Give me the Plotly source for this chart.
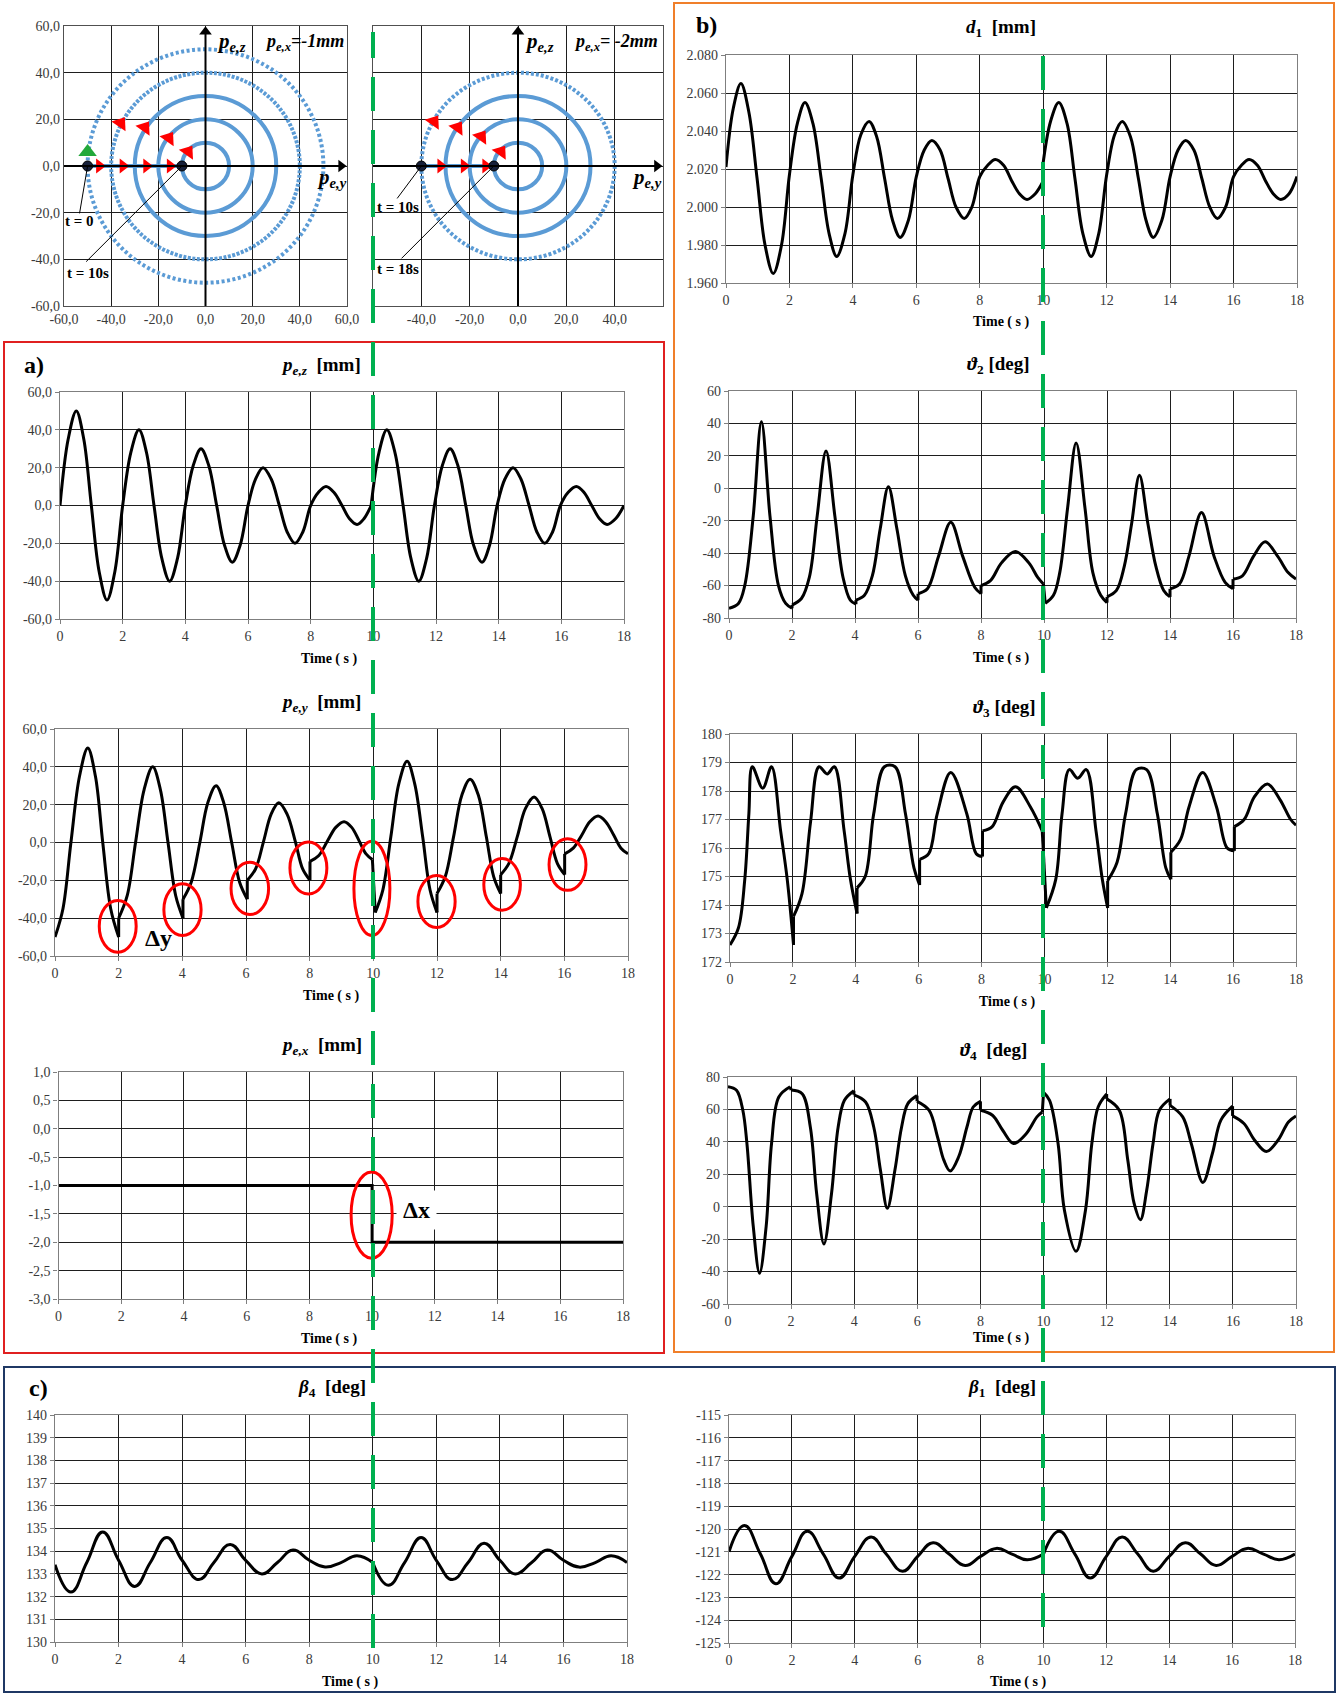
import plotly.graph_objects as go

W, H = 1338, 1694

# ---------------- DATA ----------------
# spiral trajectories (pe,y / pe,z plane)
SPIRAL_L_RADII = [10, 20, 30, 40, 50]
SPIRAL_R_RADII = [10, 20, 30, 40]
SPIRAL_L_DASH = ["solid", "solid", "solid", "3px,1.5px", "3px,2.5px"]
SPIRAL_R_DASH = ["solid", "solid", "solid", "3px,2px"]
L_RADIAL_Y = [-45, -35, -25, -15]
L_ARC_Y = [-36, -25.8, -15.6, -7.4]
L_ARC_Z = [18.3, 16.4, 11.9, 6.1]
L_DOTS_Y = [-50, -10]
R_RADIAL_Y = [-32, -22.3, -13.4]
R_ARC_Y = [-34.8, -25, -15.2, -7.1]
R_ARC_Z = [19, 16.4, 12.6, 6.1]
R_DOTS_Y = [-40, -10]

# time series (None separates pieces at jumps)
PEZ_T = [0, 0.26, 0.52, 0.76, 1.0, 1.25, 1.5, 1.75, 2.0, 2.26, 2.52, 2.76, 3.0, 3.25, 3.5, 3.75, 4.0, 4.25, 4.5, 4.75,
         5.0, 5.25, 5.5, 5.75, 6.0, 6.24, 6.48, 6.74, 7.0, 7.25, 7.5, 7.75, 8.0, 8.25, 8.49, 8.74, 9.0, 9.24, 9.48, 9.7,
         9.93, None,
         9.93, 10.18, 10.43, 10.69, 10.95, 11.2, 11.45, 11.7, 11.95, 12.2, 12.45, 12.7, 12.95, 13.2, 13.47, 13.71, 13.95,
         14.2, 14.46, 14.71, 14.97, 15.22, 15.47, 15.72, 15.97, 16.22, 16.48, 16.72, 16.97, 17.22, 17.46, 17.73, 18.0]
PEZ_V = [0, 35, 50, 35, 0, -35, -50, -35, 0, 28, 40, 28, 0, -28, -40, -28, 0, 21, 30, 21,
         0, -21, -30, -21, 0, 14, 20, 14, 0, -14, -20, -14, 0, 7, 10, 7, 0, -7, -10, -7,
         0, None,
         0, 28, 40, 28, 0, -28, -40, -28, 0, 21, 30, 21, 0, -21, -30, -21, 0,
         14, 20, 14, 0, -14, -20, -14, 0, 7, 10, 7, 0, -7, -10, -7, 0]

PEY_T = [0, 0.25, 0.5, 0.77, 1.03, 1.27, 1.5, 1.75, 2.0, None,
         2.0, 2.27, 2.53, 2.8, 3.07, 3.31, 3.55, 3.79, 4.02, None,
         4.02, 4.28, 4.55, 4.8, 5.06, 5.3, 5.55, 5.8, 6.04, None,
         6.04, 6.3, 6.55, 6.79, 7.03, 7.29, 7.55, 7.78, 8.01, None,
         8.01, 8.28, 8.55, 8.82, 9.08, 9.32, 9.55, 9.77, 9.97, None,
         10.06, 10.3, 10.55, 10.8, 11.06, 11.3, 11.55, 11.78, 12.0, None,
         12.0, 12.26, 12.52, 12.78, 13.04, 13.3, 13.55, 13.78, 14.0, None,
         14.0, 14.26, 14.52, 14.78, 15.05, 15.3, 15.55, 15.78, 16.01, None,
         16.01, 16.28, 16.55, 16.8, 17.06, 17.3, 17.55, 17.78, 18.0]
PEY_V = [-50, -35, 0, 35, 50, 35, 0, -35, -50, None,
         -40, -28, 0, 28, 40, 28, 0, -28, -40, None,
         -30, -21, 0, 21, 30, 21, 0, -21, -30, None,
         -20, -14, 0.5, 15, 21, 15, 0.5, -14, -20, None,
         -10, -7, 0.5, 8, 11, 8, 1, -6, -9, None,
         -37, -25, 3, 31, 43, 31, 3, -25, -37, None,
         -27, -18, 3, 25, 33.5, 25, 3, -18, -27, None,
         -17, -11, 3, 18, 24, 18, 3, -11, -17, None,
         -6, -3, 4, 11, 14, 11, 4, -3, -6]

PEX_T = [0, 10, 10, 18]
PEX_V = [-1, -1, -2, -2]

D1_T = [0, 0.23, 0.47, 0.72, 0.98, 1.23, 1.49, 1.75, 2.0, 2.25, 2.49, 2.74, 3.0, 3.25, 3.49, 3.75, 4.0, 4.25, 4.51,
        4.75, 5.0, 5.25, 5.49, 5.75, 6.0, 6.25, 6.49, 6.75, 7.0, 7.25, 7.51, 7.75, 8.0, 8.25, 8.49, 8.75, 9.0, 9.25,
        9.49, 9.75, 9.98, None,
        9.98, 10.23, 10.49, 10.75, 11.0, 11.25, 11.51, 11.75, 12.0, 12.25, 12.49, 12.75, 13.0, 13.24, 13.47, 13.74,
        14.0, 14.25, 14.49, 14.75, 15.0, 15.25, 15.49, 15.75, 16.0, 16.25, 16.49, 16.75, 17.0, 17.25, 17.49, 17.75, 18.0]
D1_V = [2.021, 2.052, 2.065, 2.050, 2.015, 1.980, 1.965, 1.980, 2.017, 2.044, 2.055, 2.044, 2.015, 1.986, 1.974, 1.986,
        2.017, 2.038, 2.045, 2.037, 2.015, 1.993, 1.984, 1.993, 2.016, 2.030, 2.035, 2.030, 2.015, 2.000, 1.994, 2.000,
        2.016, 2.022, 2.025, 2.022, 2.014, 2.007, 2.004, 2.007, 2.013, None,
        2.021, 2.045, 2.055, 2.044, 2.015, 1.986, 1.974, 1.986, 2.017, 2.038, 2.045, 2.037, 2.015, 1.993, 1.984, 1.993,
        2.016, 2.030, 2.035, 2.030, 2.015, 2.000, 1.994, 2.000, 2.016, 2.022, 2.025, 2.022, 2.014, 2.007, 2.004, 2.007,
        2.016]

TH2_T = [0, 0.3, 0.5, 0.77, 1.03, 1.3, 1.57, 1.8, 2.0, None,
         2.0, 2.3, 2.55, 2.8, 3.08, 3.36, 3.62, 3.85, 4.03, None,
         4.03, 4.3, 4.55, 4.8, 5.06, 5.33, 5.6, 5.85, 6.0, None,
         6.0, 6.3, 6.65, 7.04, 7.42, 7.8, 8.0, None,
         8.0, 8.3, 8.65, 9.09, 9.52, 9.8, 9.98, None,
         10.04, 10.3, 10.5, 10.75, 11.02, 11.3, 11.55, 11.8, 12.0, None,
         12.0, 12.3, 12.55, 12.78, 13.03, 13.3, 13.55, 13.8, 14.0, None,
         14.0, 14.3, 14.6, 15.0, 15.4, 15.75, 16.0, None,
         16.0, 16.3, 16.65, 17.02, 17.42, 17.75, 18.0]
TH2_V = [-74, -71, -60, -17, 41, -17, -60, -71, -74, None,
         -72, -68, -55, -17, 23, -17, -55, -69, -71.5, None,
         -69, -66, -54, -25, 1, -25, -54, -66, -69, None,
         -65, -62, -42, -21, -42, -61, -65, None,
         -60, -57, -46, -39, -46, -55, -59, None,
         -71, -66, -52, -12, 28, -12, -52, -66, -70.5, None,
         -67, -63, -48, -22, 8, -22, -48, -63, -67, None,
         -62, -59, -42, -15, -42, -58, -62, None,
         -56, -54, -42, -33, -42, -52, -56]

TH3_T = [0, 0.27, 0.47, 0.6, 0.71, 1.04, 1.32, 1.61, 1.82, 2.02, None,
         2.02, 2.29, 2.56, 2.83, 3.09, 3.32, 3.63, 3.83, 4.04, None,
         4.04, 4.3, 4.57, 4.91, 5.25, 5.58, 5.85, 6.03, None,
         6.03, 6.32, 6.59, 7.02, 7.53, 7.83, 8.03, None,
         8.03, 8.34, 8.68, 9.08, 9.55, 9.93, None,
         10.06, 10.36, 10.56, 10.79, 11.06, 11.33, 11.64, 11.84, 12.01, None,
         12.01, 12.31, 12.58, 12.92, 13.25, 13.59, 13.86, 14.02, None,
         14.02, 14.33, 14.6, 15.03, 15.47, 15.81, 16.04, None,
         16.04, 16.35, 16.68, 17.09, 17.49, 17.83, 18.0]
TH3_V = [172.6, 173.2, 174.9, 177.2, 178.85, 178.1, 178.85, 176.6, 174.9, 172.6, None,
         173.6, 174.4, 176.9, 178.85, 178.6, 178.85, 176.6, 174.9, 173.7, None,
         174.6, 175.0, 177.2, 178.85, 178.85, 177.2, 175.3, 174.7, None,
         175.6, 175.8, 177.2, 178.65, 177.2, 175.8, 175.7, None,
         176.6, 176.75, 177.6, 178.15, 177.45, 176.6, None,
         173.9, 174.9, 177.2, 178.75, 178.45, 178.75, 176.6, 174.9, 173.9, None,
         174.85, 175.5, 177.2, 178.75, 178.75, 177.2, 175.3, 174.9, None,
         175.85, 176.3, 177.45, 178.65, 177.45, 176.0, 175.9, None,
         176.75, 177.0, 177.8, 178.25, 177.7, 177.0, 176.8]

TH4_T = [0, 0.27, 0.47, 0.6, 0.8, 1.0, 1.21, 1.38, 1.61, 1.97, None,
         2.0, 2.35, 2.61, 2.81, 3.04, 3.28, 3.49, 3.69, 3.99, None,
         3.99, 4.36, 4.62, 4.83, 5.05, 5.29, 5.5, 5.7, 5.99, None,
         5.99, 6.37, 6.64, 6.84, 7.04, 7.31, 7.57, 7.77, 8.0, None,
         8.0, 8.38, 8.71, 9.05, 9.45, 9.79, 9.96, None,
         10.0, 10.19, 10.46, 10.66, 11.03, 11.33, 11.53, 11.73, 12.0, None,
         12.0, 12.4, 12.67, 12.87, 13.07, 13.27, 13.47, 13.67, 14.01, None,
         14.01, 14.41, 14.68, 15.05, 15.35, 15.62, 15.99, None,
         15.99, 16.35, 16.69, 17.06, 17.43, 17.76, 18.0]
TH4_V = [74, 71.8, 59.5, 39, -12, -41, -12, 39, 67.7, 74, None,
         72, 69.7, 49, 8, -23, 8, 49, 65.6, 71.5, None,
         69, 64.6, 49, 22.6, -1, 22.6, 49, 63.6, 68.5, None,
         65, 59.5, 43, 28.7, 22, 30.8, 49, 61.5, 65, None,
         59.5, 56.4, 47, 39, 45, 55.4, 58.4, None,
         70.5, 65.6, 39, -2, -27.5, -2, 39, 61.5, 69.5, None,
         66.5, 59.5, 28.7, 2, -8, 10.3, 39, 59.5, 66.5, None,
         62.5, 55.4, 39, 15, 32.8, 53.4, 62, None,
         56, 51.3, 41, 34, 41, 52.3, 56]

B4_T = [0, 0.5, 1.0, 1.5, 2.0, 2.51, 3.0, 3.52, 4.0, 4.53, 5.0, 5.51, 6.0, 6.51, 7.0, 7.49, 8.0, 8.5, 9.0, 9.5, 10.0, None,
        10.0, 10.49, 11.0, 11.52, 12.0, 12.5, 13.0, 13.5, 14.0, 14.48, 15.0, 15.49, 16.0, 16.49, 17.0, 17.5, 18.0]
B4_V = [133.4, 132.2, 133.5, 134.85, 133.6, 132.45, 133.5, 134.6, 133.6, 132.75, 133.5, 134.3, 133.6, 133.0, 133.5,
        134.05, 133.6, 133.3, 133.5, 133.8, 133.5, None,
        133.5, 132.5, 133.5, 134.6, 133.6, 132.75, 133.5, 134.35, 133.6, 133.0, 133.5, 134.05, 133.6, 133.3, 133.5, 133.8, 133.5]

B1_T = [0, 0.49, 1.0, 1.49, 2.0, 2.49, 3.0, 3.5, 4.0, 4.52, 5.0, 5.52, 6.0, 6.49, 7.0, 7.51, 8.0, 8.5, 9.0, 9.48, 10.0, None,
        10.0, 10.5, 11.0, 11.49, 12.0, 12.5, 13.0, 13.49, 14.0, 14.51, 15.0, 15.49, 16.0, 16.48, 17.0, 17.49, 18.0]
B1_V = [-121.0, -119.85, -121.1, -122.4, -121.2, -120.1, -121.1, -122.15, -121.2, -120.35, -121.1, -121.85, -121.2,
        -120.6, -121.1, -121.6, -121.2, -120.85, -121.1, -121.35, -121.1, None,
        -121.1, -120.1, -121.1, -122.15, -121.2, -120.35, -121.1, -121.85, -121.2, -120.6, -121.1, -121.6, -121.2,
        -120.85, -121.1, -121.35, -121.1]

# highlight ellipses on pe,y
ELL_T0 = [1.39, 3.42, 5.53, 7.38, 9.39, 11.4, 13.47, 15.52]
ELL_T1 = [2.55, 4.59, 6.71, 8.54, 10.52, 12.57, 14.62, 16.68]
ELL_V0 = [-58, -49.2, -38.1, -27.2, -49.2, -44.9, -35.8, -25.3]
ELL_V1 = [-30.6, -21.8, -10.5, 0.3, 0.6, -17.4, -8.5, 2]

TIME_TICKS = list(range(0, 19, 2))

# ---------------- FIGURE ----------------
FONT = "Liberation Serif, DejaVu Serif, serif"
TICKFONT = dict(family=FONT, size=14, color="#3a3a3a")
BLUE = "#5B9BD5"

fig = go.Figure()
layout = dict(width=W, height=H, margin=dict(l=0, r=0, t=0, b=0, autoexpand=False),
              paper_bgcolor="white", plot_bgcolor="white", showlegend=False)
shapes, annots = [], []


def dom(x0, x1, y0, y1):
    return [x0 / W, x1 / W], [1 - y1 / H, 1 - y0 / H]


def add_axes(i, box, xr, yr, xtv, xtt, ytv, ytt, show_x=True, show_y=True):
    xd, yd = dom(*box)
    sfx = "" if i == 1 else str(i)
    common = dict(showline=True, mirror=True, linecolor="#7f7f7f", linewidth=1.2, automargin=False,
                  showgrid=True, gridcolor="#1e1e1e", gridwidth=1, zeroline=False,
                  ticks="outside", ticklen=4, tickcolor="#7f7f7f", tickfont=TICKFONT, fixedrange=True)
    layout["xaxis" + sfx] = dict(common, domain=xd, range=xr, anchor="y" + sfx,
                                 tickmode="array", tickvals=xtv, ticktext=xtt, showticklabels=show_x)
    layout["yaxis" + sfx] = dict(common, domain=yd, range=yr, anchor="x" + sfx,
                                 tickmode="array", tickvals=ytv, ticktext=ytt, showticklabels=show_y)


def jumps(t, v):
    xs, ys = [], []
    for k, val in enumerate(t):
        if val is None:
            xs += [t[k - 1], t[k + 1], None]
            ys += [v[k - 1], v[k + 1], None]
    return xs, ys


def add_series(i, t, v, smooth=1.0, shape="spline"):
    sfx = "" if i == 1 else str(i)
    fig.add_trace(go.Scatter(x=t, y=v, mode="lines", xaxis="x" + sfx, yaxis="y" + sfx,
                             line=dict(color="black", width=3, shape=shape, smoothing=smooth),
                             connectgaps=False, hoverinfo="skip"))
    jx, jy = jumps(t, v)
    if jx:
        fig.add_trace(go.Scatter(x=jx, y=jy, mode="lines", xaxis="x" + sfx, yaxis="y" + sfx,
                                 line=dict(color="black", width=3), hoverinfo="skip"))


def comma(vals, fmt="{:.1f}"):
    return [fmt.format(v).replace(".", ",") for v in vals]


def label(x, y, text, size=19, xanchor="center", color="black"):
    annots.append(dict(xref="paper", yref="paper", x=x / W, y=1 - y / H, text=text, showarrow=False,
                       font=dict(family=FONT, size=size, color=color), xanchor=xanchor, yanchor="middle"))


tt = [str(v) for v in TIME_TICKS]

# --- spiral panels ---
sp_ticks = list(range(-60, 61, 20))
add_axes(1, (64, 347, 26, 306), [-60, 60], [-60, 60], sp_ticks, comma(sp_ticks), sp_ticks, comma(sp_ticks))
add_axes(2, (373, 663, 26, 306), [-60, 60], [-60, 60], sp_ticks[1:-1], comma(sp_ticks[1:-1]),
         sp_ticks, comma(sp_ticks), show_y=False)
for ax in ("xaxis", "xaxis2", "yaxis", "yaxis2"):
    layout[ax]["ticks"] = ""
    layout[ax]["linecolor"] = "#505050"

for sfx, radii, dashes, y0 in (("", SPIRAL_L_RADII, SPIRAL_L_DASH, -50), ("2", SPIRAL_R_RADII, SPIRAL_R_DASH, -40)):
    for r, d in zip(radii, dashes):
        shapes.append(dict(type="circle", xref="x" + sfx, yref="y" + sfx, x0=-r, x1=r, y0=-r, y1=r,
                           line=dict(color=BLUE, width=4, dash=d), layer="between"))
    shapes.append(dict(type="line", xref="x" + sfx, yref="y" + sfx, x0=y0, x1=-10, y0=0, y1=0,
                       line=dict(color=BLUE, width=4), layer="between"))
    # coordinate axes with arrow heads
    shapes.append(dict(type="line", xref="x" + sfx, yref="y" + sfx, x0=-60, x1=57, y0=0, y1=0,
                       line=dict(color="black", width=2)))
    shapes.append(dict(type="line", xref="x" + sfx, yref="y" + sfx, x0=0, x1=0, y0=-60, y1=57,
                       line=dict(color="black", width=2)))
    fig.add_trace(go.Scatter(x=[57.5], y=[0], mode="markers", xaxis="x" + sfx, yaxis="y" + sfx, cliponaxis=False,
                             marker=dict(symbol="triangle-right", size=11, color="black"), hoverinfo="skip"))
    fig.add_trace(go.Scatter(x=[0], y=[57.5], mode="markers", xaxis="x" + sfx, yaxis="y" + sfx, cliponaxis=False,
                             marker=dict(symbol="triangle-up", size=11, color="black"), hoverinfo="skip"))

for sfx, rad, ay_, az_, dots in (("", L_RADIAL_Y, L_ARC_Y, L_ARC_Z, L_DOTS_Y), ("2", R_RADIAL_Y, R_ARC_Y, R_ARC_Z, R_DOTS_Y)):
    fig.add_trace(go.Scatter(x=rad, y=[0] * len(rad), mode="markers", xaxis="x" + sfx, yaxis="y" + sfx,
                             marker=dict(symbol="triangle-right", size=13, color="#FF0000"), hoverinfo="skip"))
    fig.add_trace(go.Scatter(x=ay_, y=az_, mode="markers", xaxis="x" + sfx, yaxis="y" + sfx,
                             marker=dict(symbol="triangle-up", size=15, color="#FF0000", angle=35), hoverinfo="skip"))
    fig.add_trace(go.Scatter(x=dots, y=[0] * len(dots), mode="markers", xaxis="x" + sfx, yaxis="y" + sfx,
                             marker=dict(symbol="circle", size=10, color="#17203a",
                                         line=dict(color="black", width=1)), hoverinfo="skip"))
fig.add_trace(go.Scatter(x=[-50], y=[6], mode="markers", xaxis="x", yaxis="y",
                         marker=dict(symbol="triangle-up", size=16, color="#22A83A"), hoverinfo="skip"))

# leader lines and labels in spiral panels
for sfx, x0, y0, x1, y1, tx, ty, txt in (
        ("", -50, 0, -53.4, -20.3, -53.5, -23.5, "t = 0"),
        ("", -10, 0, -50.6, -41, -50, -46, "t = 10s"),
        ("2", -40, 0, -50, -13.9, -49.5, -17.5, "t = 10s"),
        ("2", -10, 0, -48.2, -39.6, -49.5, -44, "t = 18s")):
    shapes.append(dict(type="line", xref="x" + sfx, yref="y" + sfx, x0=x0, y0=y0, x1=x1, y1=y1,
                       line=dict(color="black", width=1)))
    annots.append(dict(xref="x" + sfx, yref="y" + sfx, x=tx, y=ty, text="<b>" + txt + "</b>", showarrow=False,
                       font=dict(family=FONT, size=15, color="black")))
for sfx, pz, px_txt, px_x in (("", 11, "=-1mm", 42), ("2", 9, "= -2mm", 40.5)):
    annots.append(dict(xref="x" + sfx, yref="y" + sfx, x=pz, y=53, showarrow=False,
                       text="<b><i>p<sub>e,z</sub></i></b>", font=dict(family=FONT, size=21, color="black")))
    annots.append(dict(xref="x" + sfx, yref="y" + sfx, x=px_x, y=53, showarrow=False,
                       text="<b><i>p<sub>e,x</sub>" + px_txt + "</i></b>", font=dict(family=FONT, size=18, color="black")))
    annots.append(dict(xref="x" + sfx, yref="y" + sfx, x=53.5, y=-5, showarrow=False,
                       text="<b><i>p<sub>e,y</sub></i></b>", font=dict(family=FONT, size=21, color="black")))

# --- a) panel ---
y60 = list(range(-60, 61, 20))
add_axes(3, (60, 624, 392, 619), [0, 18], [-60, 60], TIME_TICKS, tt, y60, comma(y60))
add_axes(4, (55, 628, 729, 956), [0, 18], [-60, 60], TIME_TICKS, tt, y60, comma(y60))
ypx = [1.0, 0.5, 0.0, -0.5, -1.0, -1.5, -2.0, -2.5, -3.0]
add_axes(5, (58.5, 623, 1072, 1299), [0, 18], [-3, 1], TIME_TICKS, tt, ypx, comma(ypx))
add_series(3, PEZ_T, PEZ_V, smooth=1.0)
add_series(4, PEY_T, PEY_V, smooth=1.0)
add_series(5, PEX_T, PEX_V, shape="linear")

for a, b, c, d in zip(ELL_T0, ELL_T1, ELL_V0, ELL_V1):
    shapes.append(dict(type="circle", xref="x4", yref="y4", x0=a, x1=b, y0=c, y1=d,
                       line=dict(color="#FF0000", width=3)))
annots.append(dict(xref="x4", yref="y4", x=3.25, y=-50.5, text="<b>Δy</b>", showarrow=False,
                   font=dict(family=FONT, size=24, color="black")))
shapes.append(dict(type="circle", xref="x5", yref="y5", x0=9.33, x1=10.64, y0=-2.28, y1=-0.76,
                   line=dict(color="#FF0000", width=3)))
annots.append(dict(xref="x5", yref="y5", x=11.42, y=-1.43, text="<b>Δx</b>", showarrow=False, bgcolor="white",
                   borderpad=6, font=dict(family=FONT, size=24, color="black")))

# --- b) panel ---
yd1 = [2.08, 2.06, 2.04, 2.02, 2.00, 1.98, 1.96]
add_axes(6, (726, 1297, 55, 283), [0, 18], [1.96, 2.08], TIME_TICKS, tt, yd1, ["{:.3f}".format(v) for v in yd1])
y2 = list(range(-80, 61, 20))
add_axes(7, (729, 1296, 391, 618), [0, 18], [-80, 60], TIME_TICKS, tt, y2, [str(v) for v in y2])
y3 = list(range(172, 181))
add_axes(8, (730, 1296, 734, 962), [0, 18], [172, 180], TIME_TICKS, tt, y3, [str(v) for v in y3])
y4 = list(range(-60, 81, 20))
add_axes(9, (728, 1296, 1077, 1304), [0, 18], [-60, 80], TIME_TICKS, tt, y4, [str(v) for v in y4])
add_series(6, D1_T, D1_V, smooth=1.0)
add_series(7, TH2_T, TH2_V, smooth=1.0)
add_series(8, TH3_T, TH3_V, smooth=1.0)
add_series(9, TH4_T, TH4_V, smooth=1.0)

# --- c) panel ---
yb4 = list(range(130, 141))
add_axes(10, (55, 627, 1415, 1642), [0, 18], [130, 140], TIME_TICKS, tt, yb4, [str(v) for v in yb4])
yb1 = list(range(-125, -114))
add_axes(11, (729, 1295, 1415, 1643), [0, 18], [-125, -115], TIME_TICKS, tt, yb1, [str(v) for v in yb1])
add_series(10, B4_T, B4_V, smooth=1.3)
add_series(11, B1_T, B1_V, smooth=1.3)

# titles
label(321, 366, "<b><i>p</i><sub><i>e,z</i></sub>  [mm]</b>")
label(321, 703, "<b><i>p</i><sub><i>e,y</i></sub>  [mm]</b>")
label(321, 1046, "<b><i>p</i><sub><i>e,x</i></sub>  [mm]</b>")
label(1001, 28, "<b><i>d</i><sub>1</sub>  [mm]</b>")
label(998, 365, "<b><i>ϑ</i><sub>2</sub> [deg]</b>")
label(1004, 708, "<b><i>ϑ</i><sub>3</sub> [deg]</b>")
label(993, 1051, "<b><i>ϑ</i><sub>4</sub>  [deg]</b>")
label(332, 1388, "<b><i>β</i><sub>4</sub>  [deg]</b>")
label(1002, 1388, "<b><i>β</i><sub>1</sub>  [deg]</b>")
for x, y in ((329, 659), (331, 996), (329, 1339), (1001, 322), (1001, 658), (1007, 1002), (1001, 1338),
             (350, 1682), (1018, 1682)):
    label(x, y, "<b>Time ( s )</b>", size=14)
label(34, 365, "<b>a)</b>", size=24)
label(706, 25, "<b>b)</b>", size=24)
label(38, 1388, "<b>c)</b>", size=24)

# panel frames
for x0, y0, x1, y1, col in ((4, 342, 664, 1353, "#E02020"), (674, 3, 1334, 1352, "#F07F2A"),
                            (4, 1367, 1335, 1692, "#1F3864")):
    shapes.append(dict(type="rect", xref="paper", yref="paper", x0=x0 / W, x1=x1 / W, y0=1 - y1 / H, y1=1 - y0 / H,
                       line=dict(color=col, width=2)))
# green dashed time-switch lines
for x, ya, yb in ((373, 32, 1648), (1043, 50, 1627)):
    shapes.append(dict(type="line", xref="paper", yref="paper", x0=x / W, x1=x / W, y0=1 - yb / H, y1=1 - ya / H,
                       line=dict(color="#00B050", width=4, dash="34px,19px")))

layout["shapes"] = shapes
layout["annotations"] = annots
fig.update_layout(**layout)
fig.write_html("out.html", config={"displayModeBar": False},
               post_script="document.body.style.margin='0';document.body.style.overflow='hidden';")
